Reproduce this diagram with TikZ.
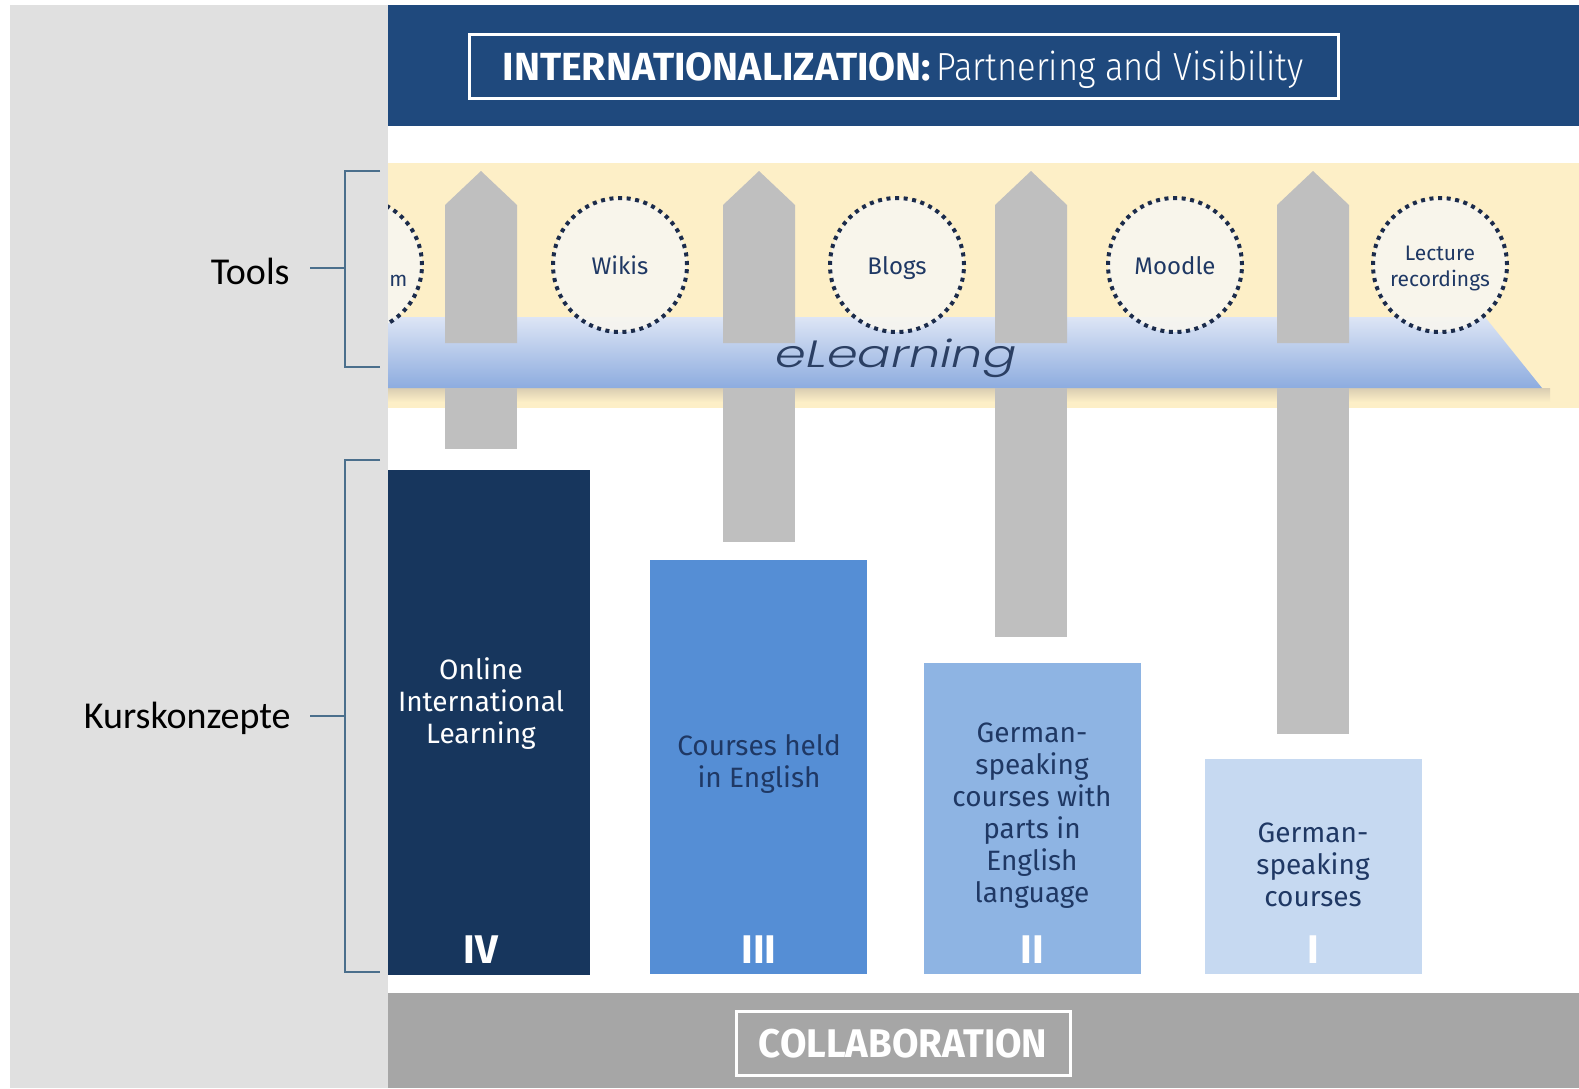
\documentclass[tikz,border=0pt]{standalone}
\usepackage{fontspec}
\setmainfont{Fira Sans}
\newfontfamily\calfont{Carlito}
\IfFontExistsTF{Fira Sans Light}{\newfontfamily\lightfont{Fira Sans Light}}{\newfontfamily\lightfont{Fira Sans}}
\IfFontExistsTF{Poppins Light Italic}{\newfontfamily\elfont{Poppins Light Italic}\def\myelshape{}}{\newfontfamily\elfont{Poppins}\def\myelshape{\itshape}}
\definecolor{hdrblue}{HTML}{1F497D}
\definecolor{panelgray}{HTML}{E0E0E0}
\definecolor{bandyellow}{HTML}{FDEFC7}
\definecolor{pillargray}{HTML}{BFBFBF}
\definecolor{cIV}{HTML}{17365D}
\definecolor{cIII}{HTML}{558ED5}
\definecolor{cII}{HTML}{8EB4E3}
\definecolor{cI}{HTML}{C6D9F1}
\definecolor{collgray}{HTML}{A6A6A6}
\definecolor{brkt}{HTML}{4B6F8C}
\definecolor{circfill}{HTML}{F8F6EF}
\definecolor{dotnavy}{HTML}{1B2B4B}
\definecolor{barTop}{HTML}{DDE5F5}
\definecolor{barBot}{HTML}{8DACDF}
\definecolor{textnavy}{HTML}{1F3864}
\definecolor{elnavy}{HTML}{2B3F63}
\definecolor{shadowtan}{HTML}{D9CDB2}
\begin{document}
\begin{tikzpicture}[x=0.5pt,y=-0.5pt,
  brk/.style={draw=brkt, line width=1.3pt},
  pillar/.style={fill=pillargray, draw=none},
  tool/.style={circle, draw=dotnavy, line width=2pt, dash pattern=on 2pt off 2.3pt, fill=circfill, fill opacity=0.9, minimum size=67pt, inner sep=0pt},
  toollbl/.style={text=textnavy, align=center, inner sep=0pt},
  course/.style={draw=none, inner sep=0pt, outer sep=0pt},
  coursetxt/.style={align=center, inner sep=0pt, font=\fontsize{14}{16}\selectfont},
  numeral/.style={text=white, inner sep=0pt, font=\bfseries\fontsize{20}{24}\selectfont},
  sidelbl/.style={inner sep=0pt, font=\calfont\fontsize{19}{23}\selectfont},
]
\useasboundingbox (0,0) rectangle (1579,1088);
\fill[white] (0,0) rectangle (1579,1088);
% header
\fill[hdrblue] (388,5) rectangle (1579,126);
\node[draw=white, line width=1.5pt, minimum width=434.5pt, minimum height=32pt, inner sep=0pt] (hbox) at (903.5,66) {};
\node[anchor=base, text=white, inner sep=0pt] (htxt) at (903,80) {\scalebox{1.0}[1]{\bfseries\fontsize{19.6}{24}\selectfont INTERNATIONALIZATION:}\ \scalebox{0.88}[1]{\lightfont\fontsize{19.6}{24}\selectfont Partnering and Visibility}};
% yellow band
\fill[bandyellow] (388,163) rectangle (1579,408);
% bar shadow and bar
\shade[top color=shadowtan, bottom color=bandyellow] (388,388) rectangle (1550,402);
\shade[top color=barTop, bottom color=barBot] (388,317) -- (1485,317) -- (1542,388) -- (388,388) -- cycle;
% pillars
\foreach \cx/\by in {481/449, 759/542, 1031/637, 1313/734}{
  \fill[pillar] (\cx-36,343) -- (\cx-36,205) -- (\cx,171) -- (\cx+36,205) -- (\cx+36,343) -- cycle;
  \fill[pillar] (\cx-36,388) rectangle (\cx+36,\by);
}
% tools
\node[tool] (c0) at (355,265) {};
\node[tool] (c1) at (620,265) {};
\node[tool] (c2) at (897,265) {};
\node[tool] (c3) at (1175,265) {};
\node[tool] (c4) at (1440,265) {};
\node[toollbl, anchor=base west, font=\fontsize{10.5}{13}\selectfont] (t0) at (389,286) {m};
\node[toollbl, anchor=base, font=\fontsize{12}{14}\selectfont] (t1) at (620,274) {Wikis};
\node[toollbl, anchor=base, font=\fontsize{12}{14}\selectfont] (t2) at (897,274) {Blogs};
\node[toollbl, anchor=base, font=\fontsize{12}{14}\selectfont] (t3) at (1175,274) {Moodle};
\node[toollbl, font=\fontsize{10.5}{13}\selectfont] (t4) at (1440,268) {Lecture\\recordings};
% eLearning
\node[anchor=base, text=elnavy, inner sep=0pt] (el) at (896,367) {\scalebox{1.3}[1]{\elfont\myelshape\fontsize{19}{22}\selectfont eLearning}};
% course boxes
\node[course, fill=cIV, minimum width=101pt, minimum height=252.5pt] (bIV) at (489,722.5) {};
\node[course, fill=cIII, minimum width=108.5pt, minimum height=207pt] (bIII) at (758.5,767) {};
\node[course, fill=cII, minimum width=108.5pt, minimum height=155.5pt] (bII) at (1032.5,818.5) {};
\node[course, fill=cI, minimum width=108.5pt, minimum height=107.5pt] (bI) at (1313.5,866.5) {};
\node[coursetxt, text=white] (xIV) at (481,704) {Online\\International\\Learning};
\node[coursetxt, text=textnavy] (xIII) at (759,764) {Courses held\\in English};
\node[coursetxt, text=textnavy] (xII) at (1032,816) {German-\\speaking\\courses with\\parts in\\English\\language};
\node[coursetxt, text=textnavy] (xI) at (1313,865) {German-\\speaking\\courses};
\node[numeral, anchor=base] (nIV) at (481,963) {IV};
\node[numeral, anchor=base] (nIII) at (759,963) {III};
\node[numeral, anchor=base] (nII) at (1032,963) {II};
\node[numeral, anchor=base] (nI) at (1313,963) {I};
% collaboration
\fill[collgray] (388,993) rectangle (1579,1088);
\node[draw=white, line width=1.5pt, minimum width=167pt, minimum height=32pt, inner sep=0pt] (cbox) at (903,1043) {};
\node[anchor=base, text=white, inner sep=0pt] (ctxt) at (903,1057) {\scalebox{0.96}[1]{\bfseries\fontsize{20}{24}\selectfont COLLABORATION}};
% left panel
\fill[panelgray] (10,5) rectangle (388,1088);
\node[sidelbl, anchor=base east] (tools) at (290,284) {Tools};
\node[sidelbl, anchor=base east] (kurs) at (291,728) {Kurskonzepte};
\coordinate (tmid) at (345,268);
\coordinate (kmid) at (345,716);
\draw[brk] (380,171) -| (345,367) -- (380,367);
\draw[brk] (380,460) -| (345,972) -- (380,972);
\draw[brk] (310,268) -- (tmid);
\draw[brk] (310,716) -- (kmid);
\end{tikzpicture}
\end{document}
